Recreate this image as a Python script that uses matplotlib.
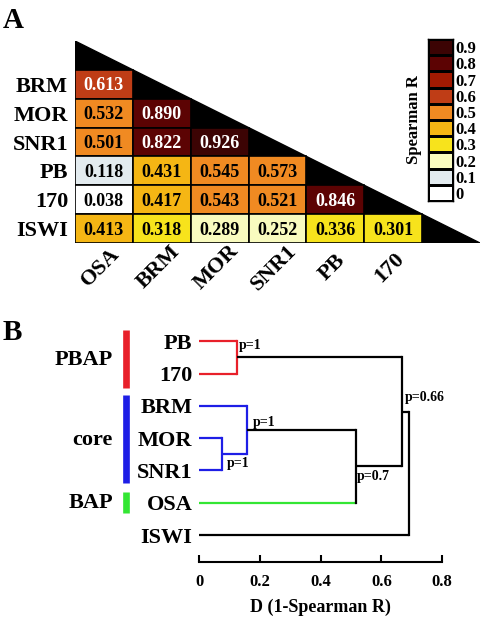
import matplotlib.pyplot as plt
import matplotlib.patches as patches
from matplotlib.colors import ListedColormap, BoundaryNorm
import numpy as np

plt.rcParams['font.family'] = ['Liberation Serif', 'DejaVu Serif']
plt.rcParams['font.weight'] = 'bold'
plt.rcParams['axes.labelweight'] = 'bold'

# ---- panel A data
rows = ['BRM', 'MOR', 'SNR1', 'PB', '170', 'ISWI']
cols = ['OSA', 'BRM', 'MOR', 'SNR1', 'PB', '170']
corr = [
    [0.613],
    [0.532, 0.890],
    [0.501, 0.822, 0.926],
    [0.118, 0.431, 0.545, 0.573],
    [0.038, 0.417, 0.543, 0.521, 0.846],
    [0.413, 0.318, 0.289, 0.252, 0.336, 0.301],
]
bin_edges = [0, 0.1, 0.2, 0.3, 0.4, 0.5, 0.6, 0.7, 0.8, 0.9, 1.0]
bin_labels = ['0', '0.1', '0.2', '0.3', '0.4', '0.5', '0.6', '0.7', '0.8', '0.9']
bin_colors = ['#ffffff', '#e3ebef', '#f9fbbf', '#f7e31c', '#f5b614', '#f08a22',
              '#bf3d16', '#a21a02', '#5c0303', '#3c0404']

# ---- panel B data
leaves = ['ISWI', 'OSA', 'SNR1', 'MOR', 'BRM', '170', 'PB']  # bottom to top
# (child a, child b, distance, new node)
merges = [
    ('PB', '170', 0.124, 'pbap'),
    ('MOR', 'SNR1', 0.074, 'ms'),
    ('BRM', 'ms', 0.158, 'core'),
    ('core', 'OSA', 0.515, 'bap'),
    ('pbap', 'bap', 0.667, 'swisnf'),
    ('swisnf', 'ISWI', 0.692, 'all'),
]
pvals = ['p=1', 'p=1', 'p=1', 'p=0.7', 'p=0.66', '']
groups = ['PBAP', 'core', 'BAP']
group_span = [(4.55, 6.35), (1.62, 4.33), (0.68, 1.33)]

red, blue, green = '#e8202a', '#1e1ee6', '#33e633'
# colours of (arm a, arm b, vertical) for each merge
link_colors = [
    (red, red, red),
    (blue, blue, blue),
    (blue, blue, blue),
    ('k', green, 'k'),
    ('k', 'k', 'k'),
    ('k', 'k', 'k'),
]
group_colors = [red, blue, green]

cmap = ListedColormap(bin_colors)
norm = BoundaryNorm(bin_edges, cmap.N)

W, H = 480, 618
fig = plt.figure(figsize=(W / 100, H / 100), dpi=100)

def px_axes(x0, y0, x1, y1):
    return fig.add_axes([x0 / W, 1 - y1 / H, (x1 - x0) / W, (y1 - y0) / H])

# ================= A: triangle heatmap
ax = px_axes(75, 41, 480, 243)
ax.set_xlim(0, 7)
ax.set_ylim(7, 0)
ax.add_patch(patches.Polygon([(0, 0), (7, 7), (0, 7)], closed=True,
                             facecolor='k', edgecolor='k', zorder=1))
for r, vals in enumerate(corr):
    for c, v in enumerate(vals):
        ax.add_patch(patches.Rectangle((c, r + 1), 1, 1, facecolor=cmap(norm(v)),
                                       edgecolor='k', lw=1.2, zorder=2))
        ax.text(c + 0.5, r + 1.55, '%.3f' % v, ha='center', va='center',
                fontsize=13, color='white' if v >= 0.6 else 'black', zorder=3)
for s in ax.spines.values():
    s.set_visible(False)
ax.set_yticks(np.arange(len(rows)) + 1.5)
ax.set_yticklabels(rows, fontsize=16)
ax.tick_params(axis='y', length=0, pad=5)
ax.set_xticks([])
for c, name in enumerate(cols):
    ax.text(c + 0.44, 7.85, name, rotation=45, ha='center', va='center',
            fontsize=16)

# colorbar
cax = px_axes(428, 39, 453, 201)
cax.pcolormesh(np.array([[0, 1]]), np.arange(11), np.arange(10).reshape(10, 1),
               cmap=cmap, edgecolors='k', linewidth=1.0)
cax.set_xlim(0, 1)
cax.set_ylim(0, 10)
cax.set_xticks([])
cax.yaxis.tick_right()
cax.set_yticks(np.arange(10) + 0.5)
cax.set_yticklabels(bin_labels, fontsize=12)
cax.tick_params(axis='y', length=0, pad=2)
for s in cax.spines.values():
    s.set_linewidth(1.0)
cax.set_ylabel('Spearman R', fontsize=12, labelpad=4)

fig.text(3 / W, 1 - 28 / H, 'A', fontsize=21, va='baseline')
fig.text(3 / W, 1 - 340 / H, 'B', fontsize=21, va='baseline')

# ================= B: dendrogram
bx = px_axes(199.3, 309, 442, 562)
bx.set_xlim(0, 0.8)
bx.set_ylim(-0.836, 7)
nodes = {name: (i, 0.0) for i, name in enumerate(leaves)}
for (a, b, h, new), (ca, cb, cv), p in zip(merges, link_colors, pvals):
    ya, ha_ = nodes[a]
    yb, hb = nodes[b]
    bx.plot([ha_, h], [ya, ya], color=ca, lw=1.6, solid_capstyle='butt')
    bx.plot([hb, h], [yb, yb], color=cb, lw=1.6, solid_capstyle='butt')
    bx.plot([h, h], [ya, yb], color=cv, lw=1.6, solid_capstyle='projecting')
    nodes[new] = ((ya + yb) / 2, h)

p_pos = [(0.129, 5.88), (0.092, 2.2), (0.177, 3.5), (0.52, 1.8), (0.678, 4.27)]
for p, (x, y) in zip(pvals, p_pos):
    bx.text(x, y, p, fontsize=10, ha='left', va='center')

bx.set_yticks(np.arange(len(leaves)))
bx.set_yticklabels(leaves, fontsize=16)
bx.tick_params(axis='y', length=0, pad=5)
bx.set_xticks([0, 0.2, 0.4, 0.6, 0.8])
bx.set_xticklabels(['0', '0.2', '0.4', '0.6', '0.8'], fontsize=12)
bx.tick_params(axis='x', direction='in', length=5, width=1.5, pad=9)
for side in ['left', 'right', 'top']:
    bx.spines[side].set_visible(False)
bx.spines['bottom'].set_linewidth(1.5)
bx.set_xlabel('D (1-Spearman R)', fontsize=13, labelpad=6)

grp_label_y = [5.42, 2.94, 1.0]
for g, (y0, y1), col, ly in zip(groups, group_span, group_colors, grp_label_y):
    bx.plot([-0.243, -0.243], [y0, y1], color=col, lw=4.8,
            solid_capstyle='butt', clip_on=False)
    bx.text(-0.285, ly, g, ha='right', va='center', fontsize=16)

fig.savefig('out.png', dpi=100)
